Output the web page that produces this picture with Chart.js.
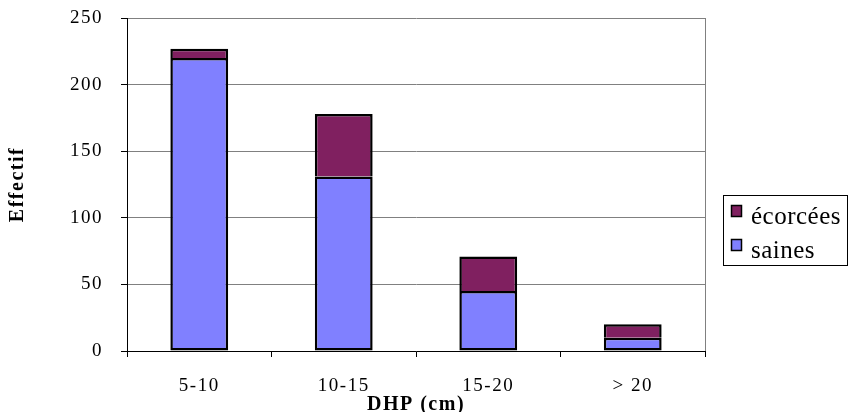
<!DOCTYPE html>
<html>
<head>
<meta charset="utf-8">
<script src="https://cdn.jsdelivr.net/npm/chart.js@4/dist/chart.umd.min.js"></script>
<style>
  html, body { margin: 0; padding: 0; background: #fff; }
</style>
</head>
<body>
<canvas id="dhpChart" width="850" height="412"></canvas>
<script>
// classes de diamètre (DHP) et effectifs
const categories = ['5-10', '10-15', '15-20', '> 20'];
const saines = [220, 131, 45, 10];
const ecorcees = [7, 47, 26, 10];
const yTicks = [0, 50, 100, 150, 200, 250];

const serif = '"Liberation Serif", "Times New Roman", serif';

// letter spacing is part of the canvas state, so set it again before layout and draw
const spacingPlugin = {
    id: 'spacing',
    beforeUpdate(chart) { chart.ctx.letterSpacing = '1.5px'; },
    beforeDraw(chart) { chart.ctx.letterSpacing = '1.5px'; }
};

// gray frame on the right + the boxed legend on the right side
const framePlugin = {
    id: 'frame',
    afterDraw(chart) {
        const ctx = chart.ctx;
        const area = chart.chartArea;
        ctx.save();
        ctx.strokeStyle = '#808080';
        ctx.lineWidth = 1;
        ctx.beginPath();
        ctx.moveTo(Math.round(area.right) + 0.5, area.top);
        ctx.lineTo(Math.round(area.right) + 0.5, area.bottom);
        ctx.stroke();

        // legend box
        ctx.strokeStyle = '#000';
        ctx.strokeRect(723.5, 195.5, 124, 70);
        const items = chart.data.datasets.slice().reverse();
        ctx.font = '25px ' + serif;
        ctx.letterSpacing = '0.5px';
        ctx.textBaseline = 'alphabetic';
        ctx.textAlign = 'left';
        items.forEach((ds, i) => {
            const y = 205.5 + i * 34;
            ctx.fillStyle = ds.backgroundColor;
            ctx.fillRect(731.5, y, 10, 11);
            ctx.lineWidth = 1.5;
            ctx.strokeStyle = '#000';
            ctx.strokeRect(731.5, y, 10, 11);
            ctx.fillStyle = '#000';
            ctx.fillText(ds.label, 751, 224 + i * 34);
        });
        ctx.restore();
    }
};

new Chart(document.getElementById('dhpChart'), {
    type: 'bar',
    data: {
        labels: categories,
        datasets: [
            {
                label: 'saines',
                data: saines,
                backgroundColor: '#8080FF',
                borderColor: '#000',
                borderWidth: 2.5,
                borderSkipped: false,
                barPercentage: 0.4,
                categoryPercentage: 1
            },
            {
                label: 'écorcées',
                data: ecorcees,
                backgroundColor: '#802060',
                borderColor: '#000',
                borderWidth: 2.5,
                borderSkipped: 'bottom',
                barPercentage: 0.4,
                categoryPercentage: 1
            }
        ]
    },
    options: {
        responsive: false,
        animation: false,
        layout: { padding: { top: 18, right: 145, bottom: 0, left: 0 } },
        plugins: {
            legend: { display: false },
            tooltip: { enabled: false }
        },
        scales: {
            x: {
                stacked: true,
                afterFit: s => { s.height = 61; s.paddingLeft = 0; s.paddingRight = 0; },
                grid: {
                    offset: true,
                    drawOnChartArea: false,
                    color: '#000',
                    tickLength: 6
                },
                border: { color: '#000', width: 1 },
                ticks: {
                    color: '#000',
                    padding: 18,
                    maxRotation: 0,
                    font: { family: serif, size: 19 }
                },
                title: {
                    display: true,
                    text: 'DHP (cm)',
                    color: '#000',
                    padding: { top: 0, bottom: -3 },
                    font: { family: serif, size: 20, weight: 'bold', lineHeight: 1 }
                }
            },
            y: {
                stacked: true,
                min: yTicks[0],
                max: yTicks[yTicks.length - 1],
                afterFit: s => { s.width = 127; s.paddingTop = 0; s.paddingBottom = 0; },
                afterBuildTicks: s => { s.ticks = yTicks.map(v => ({ value: v })); },
                grid: {
                    color: '#808080',
                    tickColor: '#000',
                    tickLength: 6
                },
                border: { color: '#000', width: 1 },
                ticks: {
                    color: '#000',
                    padding: 18,
                    font: { family: serif, size: 19 }
                },
                title: {
                    display: true,
                    text: 'Effectif',
                    color: '#000',
                    padding: { top: 8, bottom: 0 },
                    font: { family: serif, size: 20, weight: 'bold', lineHeight: 1 }
                }
            }
        }
    },
    plugins: [spacingPlugin, framePlugin]
});
</script>
</body>
</html>
